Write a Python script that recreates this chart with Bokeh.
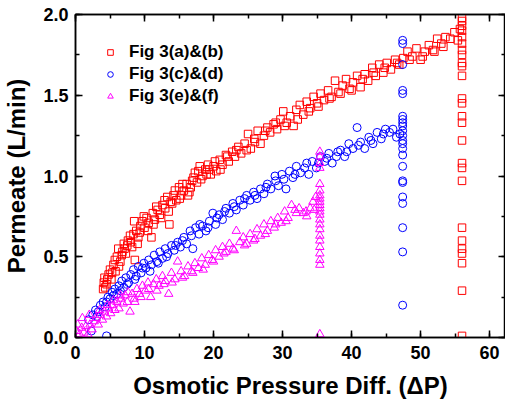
from bokeh.plotting import figure
from bokeh.models import Range1d, LinearAxis, SingleIntervalTicker, Legend, CustomJSTickFormatter
from bokeh.embed import file_html
from bokeh.resources import INLINE

# ---------------- data ----------------
red_x = [4.0, 4.1, 4.2, 4.5, 4.8, 5.0, 5.2, 5.5, 5.8, 6.0, 6.2, 6.5, 6.8, 7.0, 7.3, 7.6, 7.9, 8.2, 8.5, 8.6,
         8.8, 9.1, 9.4, 9.7, 10.0, 10.3, 10.6, 11.0, 11.2, 11.5, 11.9, 12.2, 12.6, 13.0, 13.3, 13.6, 13.8, 14.2, 14.6, 15.0,
         15.3, 15.7, 16.1, 16.5, 16.9, 17.3, 17.6, 18.0, 18.4, 18.8, 19.2, 19.6, 20.0, 20.4, 20.9, 21.3, 21.8, 22.2, 22.7, 23.1,
         23.6, 24.0, 24.5, 25.0, 25.4, 25.9, 26.4, 26.8, 27.3, 27.8, 28.2, 28.7, 29.2, 29.7, 30.1, 30.6, 31.1, 31.6, 32.0, 32.5,
         33.0, 33.5, 34.0, 34.5, 35.0, 35.5, 36.0, 36.6, 37.1, 37.6, 38.1, 38.7, 39.2, 39.7, 40.2, 40.8, 41.3, 41.9, 42.4, 43.0,
         43.5, 44.0, 44.6, 45.1, 45.7, 46.3, 46.9, 47.5, 48.1, 48.8, 49.4, 50.0, 50.6, 51.2, 51.8, 52.4, 53.0, 53.6, 54.3, 54.9,
         55.4, 55.7,
         4.3, 4.6, 5.3, 5.7, 6.3, 6.7, 7.1, 7.5, 8.0, 8.4, 9.0, 9.3, 9.9, 10.5, 11.3, 11.7, 12.4, 12.9, 13.5, 14.0,
         14.4, 15.1, 15.5, 16.3, 16.7, 17.1, 17.8, 18.2, 19.0, 19.4, 20.2, 21.0, 22.0, 23.3, 24.8, 26.0, 27.5, 29.0, 30.3, 32.2,
         33.8, 35.2, 36.8, 38.4, 40.0, 41.6, 43.2, 44.8, 46.6, 48.4, 50.3, 52.0, 53.3,
         56.0, 56.0, 56.0, 56.0, 56.0, 56.0, 56.0, 56.0, 56.0, 56.0, 56.0, 56.0, 56.0, 56.0, 56.0, 56.0, 56.0, 56.0, 56.0, 56.0,
         56.0, 56.0, 56.0, 56.0, 56.0, 56.0]
red_y = [0.30, 0.34, 0.37, 0.33, 0.39, 0.42, 0.36, 0.45, 0.41, 0.50, 0.55, 0.47, 0.53, 0.58, 0.52, 0.60, 0.63, 0.56, 0.72, 0.48,
         0.66, 0.62, 0.69, 0.72, 0.68, 0.74, 0.71, 0.62, 0.77, 0.73, 0.79, 0.76, 0.82, 0.80, 0.87, 0.70, 0.84, 0.88, 0.85, 0.93,
         0.88, 0.91, 0.95, 0.90, 0.97, 1.02, 0.96, 1.06, 1.00, 1.04, 1.07, 1.01, 1.06, 1.03, 1.10, 1.07, 1.13, 1.09, 1.15, 1.12,
         1.18, 1.14, 1.20, 1.26, 1.17, 1.23, 1.28, 1.20, 1.25, 1.30, 1.27, 1.32, 1.29, 1.35, 1.40, 1.33, 1.37, 1.31, 1.41, 1.44,
         1.38, 1.46, 1.42, 1.49, 1.45, 1.51, 1.47, 1.53, 1.49, 1.59, 1.52, 1.56, 1.60, 1.54, 1.58, 1.62, 1.55, 1.63, 1.59, 1.67,
         1.62, 1.69, 1.64, 1.70, 1.66, 1.72, 1.69, 1.73, 1.77, 1.74, 1.79, 1.72, 1.77, 1.81, 1.78, 1.85, 1.82, 1.86, 1.85, 1.89,
         1.84, 1.91,
         0.31, 0.36, 0.40, 0.48, 0.44, 0.51, 0.55, 0.57, 0.59, 0.64, 0.58, 0.65, 0.75, 0.66, 0.70, 0.81, 0.74, 0.85, 0.78, 0.83,
         0.91, 0.86, 0.95, 0.88, 0.93, 0.99, 1.03, 0.98, 1.01, 1.04, 1.09, 1.04, 1.12, 1.16, 1.16, 1.21, 1.28, 1.33, 1.31, 1.35,
         1.40, 1.43, 1.48, 1.51, 1.53, 1.60, 1.64, 1.67, 1.70, 1.72, 1.74, 1.77, 1.80,
         0.01, 0.29, 0.46, 0.52, 0.55, 0.60, 0.68, 0.97, 1.05, 1.08, 1.22, 1.33, 1.37, 1.45, 1.48, 1.62, 1.68, 1.70, 1.75, 1.78,
         1.82, 1.86, 1.90, 1.93, 1.96, 1.98]

blue_x = [2.3, 4.5, 1.9, 2.5, 2.9, 3.3, 3.6, 4.0, 4.3, 4.7, 5.0, 5.3, 5.7, 6.0, 6.3, 6.7, 7.0, 7.3, 7.7, 8.0,
          8.4, 8.8, 9.1, 9.5, 9.9, 10.2, 10.6, 11.0, 11.4, 11.8, 12.2, 12.6, 13.0, 13.4, 13.9, 14.3, 14.8, 15.2, 15.7, 16.1,
          16.6, 17.0, 17.4, 17.9, 18.4, 18.9, 19.4, 19.9, 20.3, 20.8, 21.3, 21.8, 22.3, 22.8, 23.3, 23.8, 24.3, 24.8, 25.3, 25.8,
          26.3, 26.8, 27.3, 27.8, 28.3, 28.9, 29.4, 29.9, 30.5, 31.0, 31.5, 32.0, 32.6, 33.2, 33.8, 34.3, 34.9, 35.5, 36.1, 36.7,
          37.2, 37.8, 38.4, 39.0, 39.6, 40.2, 40.8, 41.3, 41.9, 42.5, 43.1, 43.7, 44.3, 44.9, 45.5, 46.0, 46.5, 47.0,
          3.1, 4.5, 5.5, 6.5, 7.5, 8.6, 9.7, 10.8, 12.0, 13.2, 14.5, 15.5, 16.8, 18.0, 19.2, 20.5, 21.6, 23.0, 24.5, 26.0,
          27.6, 29.0, 30.2, 31.8, 33.5, 35.2, 36.4, 38.0, 39.3, 41.0, 42.8, 44.6,
          47.4, 47.4, 47.4, 47.4, 47.4, 47.4, 47.4, 47.4, 47.4, 47.4, 47.4, 47.4, 47.4, 47.4, 47.4, 47.4, 47.4, 47.4, 47.4, 47.4,
          47.4, 47.4, 47.4]
blue_y = [0.04, 0.01, 0.11, 0.14, 0.17, 0.16, 0.20, 0.22, 0.19, 0.25, 0.24, 0.28, 0.30, 0.27, 0.32, 0.35, 0.31, 0.37, 0.34, 0.39,
          0.42, 0.38, 0.44, 0.40, 0.46, 0.43, 0.48, 0.45, 0.51, 0.47, 0.53, 0.49, 0.55, 0.52, 0.57, 0.54, 0.59, 0.56, 0.62, 0.58,
          0.66, 0.55, 0.68, 0.64, 0.69, 0.66, 0.72, 0.77, 0.70, 0.76, 0.73, 0.80, 0.77, 0.83, 0.79, 0.85, 0.82, 0.88, 0.85, 0.90,
          0.86, 0.92, 0.89, 0.95, 0.92, 1.00, 0.94, 1.01, 0.92, 1.03, 0.99, 1.06, 1.02, 1.05, 1.01, 1.09, 1.05, 1.12, 1.09, 1.14,
          1.08, 1.12, 1.16, 1.12, 1.20, 1.17, 1.30, 1.21, 1.17, 1.24, 1.20, 1.27, 1.23, 1.29, 1.27, 1.29, 1.24, 1.26,
          0.13, 0.22, 0.26, 0.29, 0.33, 0.36, 0.43, 0.41, 0.46, 0.50, 0.57, 0.60, 0.63, 0.70, 0.68, 0.74, 0.78, 0.81, 0.86, 0.88,
          0.93, 0.97, 0.98, 1.01, 1.08, 1.08, 1.11, 1.15, 1.15, 1.19, 1.22, 1.26,
          0.20, 0.53, 0.68, 0.83, 0.87, 0.96, 0.97, 1.06, 1.13, 1.17, 1.20, 1.22, 1.25, 1.28, 1.31, 1.33, 1.35, 1.37, 1.51, 1.53,
          1.69, 1.82, 1.84]

mag_x = [0.1, 0.3, 0.6, 0.9, 1.2, 1.5, 1.8, 2.1, 2.4, 2.7, 3.0, 3.3, 3.6, 3.9, 4.2, 4.5, 4.8, 5.1, 5.4, 5.7,
         6.0, 6.3, 6.6, 6.9, 7.2, 7.5, 7.9, 8.2, 8.5, 8.9, 9.3, 9.7, 10.1, 10.5, 10.9, 11.3, 11.7, 12.1, 12.6, 13.0,
         13.5, 13.9, 14.4, 14.8, 15.3, 15.8, 16.3, 16.8, 17.3, 17.8, 18.3, 18.8, 19.3, 19.8, 20.3, 20.8, 21.3, 21.8, 22.3, 22.8,
         23.3, 23.8, 24.3, 24.8, 25.3, 25.8, 26.3, 26.8, 27.3, 27.8, 28.3, 28.8, 29.3, 29.8, 30.3, 30.8, 31.3, 31.8, 32.4, 33.0,
         33.5, 34.0, 34.4, 34.8,
         1.0, 2.0, 3.5, 4.6, 5.5, 6.5, 7.6, 8.6, 9.5, 10.6, 11.8, 12.8, 14.0, 15.5, 17.0, 18.5, 20.0, 21.5, 23.0, 24.5,
         26.0, 27.5, 29.0, 30.5, 32.0, 33.4, 34.6,
         35.4, 35.4, 35.4, 35.4, 35.4, 35.4, 35.4, 35.4, 35.4, 35.4, 35.4, 35.4, 35.4, 35.4, 35.4, 35.4, 35.4, 35.4, 35.4, 35.4,
         35.4, 35.4, 35.4]
mag_y = [0.04, 0.08, 0.02, 0.06, 0.03, 0.07, 0.02, 0.08, 0.05, 0.10, 0.12, 0.08, 0.14, 0.11, 0.16, 0.13, 0.18, 0.15, 0.20, 0.17,
         0.22, 0.18, 0.24, 0.21, 0.26, 0.22, 0.16, 0.27, 0.24, 0.30, 0.27, 0.32, 0.29, 0.34, 0.25, 0.33, 0.36, 0.32, 0.38, 0.35,
         0.27, 0.40, 0.36, 0.47, 0.41, 0.38, 0.44, 0.41, 0.46, 0.43, 0.49, 0.45, 0.51, 0.48, 0.54, 0.50, 0.56, 0.53, 0.58, 0.55,
         0.66, 0.59, 0.62, 0.58, 0.64, 0.60, 0.67, 0.63, 0.70, 0.66, 0.72, 0.68, 0.74, 0.71, 0.78, 0.74, 0.82, 0.79, 0.80, 0.77,
         0.75, 0.80, 0.84, 0.87,
         0.12, 0.14, 0.17, 0.20, 0.23, 0.26, 0.28, 0.22, 0.25, 0.30, 0.29, 0.33, 0.34, 0.37, 0.40, 0.42, 0.47, 0.52, 0.54, 0.57,
         0.61, 0.64, 0.70, 0.72, 0.77, 0.78, 0.79,
         0.02, 0.45, 0.48, 0.52, 0.56, 0.60, 0.63, 0.67, 0.70, 0.73, 0.76, 0.78, 0.80, 0.82, 0.84, 0.86, 0.88, 0.91, 0.95, 1.05,
         1.08, 1.12, 1.15]

series_labels = ["Fig 3(a)&(b)", "Fig 3(c)&(d)", "Fig 3(e)&(f)"]
x_ticks_step = 10
y_ticks_step = 0.5

FONT = "Liberation Sans"

p = figure(width=505, height=401, output_backend="svg", toolbar_location=None,
           x_range=Range1d(0, 62.3), y_range=Range1d(0, 2.0),
           min_border_left=66, min_border_right=0, min_border_top=14, min_border_bottom=0)
p.grid.visible = False
p.outline_line_color = "black"
p.outline_line_width = 1.5
p.background_fill_color = "white"

r1 = p.scatter(red_x, red_y, marker="square", size=7.5, line_color="#ff0000", fill_color=None, line_width=1)
r2 = p.scatter(blue_x, blue_y, marker="circle", size=8, line_color="#0000ff", fill_color=None, line_width=1)
r3 = p.scatter(mag_x, mag_y, marker="triangle", size=8.5, line_color="#ff00ff", fill_color=None, line_width=1)

def style_axis(ax, show_labels):
    ax.axis_line_width = 1.5
    ax.major_tick_line_width = 1.5
    ax.minor_tick_line_width = 1.5
    ax.major_tick_in = 7
    ax.major_tick_out = 0
    ax.minor_tick_in = 4
    ax.minor_tick_out = 0
    if show_labels:
        ax.major_label_text_font = FONT
        ax.major_label_text_font_style = "bold"
        ax.major_label_text_font_size = "18px"
        ax.major_label_text_color = "black"
        ax.axis_label_text_font = FONT
        ax.axis_label_text_font_style = "bold"
        ax.axis_label_text_font_size = "24px"
        ax.axis_label_text_color = "black"
    else:
        ax.formatter = CustomJSTickFormatter(code="return '';")
        ax.major_label_text_font_size = "1px"
        ax.major_label_standoff = 0
        ax.axis_label_standoff = 0

xa = p.xaxis[0]
xa.ticker = SingleIntervalTicker(interval=x_ticks_step, num_minor_ticks=2)
xa.axis_label = "Osmotic Pressure Diff. (ΔP)"
style_axis(xa, True)
xa.major_label_standoff = 8
xa.axis_label_standoff = 10

ya = p.yaxis[0]
ya.ticker = SingleIntervalTicker(interval=y_ticks_step, num_minor_ticks=2)
ya.axis_label = "Permeate (L/min)"
style_axis(ya, True)
ya.formatter = CustomJSTickFormatter(code="return tick.toFixed(1);")
ya.major_label_standoff = 7
ya.axis_label_standoff = 10

ta = LinearAxis(ticker=SingleIntervalTicker(interval=x_ticks_step, num_minor_ticks=2))
style_axis(ta, False)
p.add_layout(ta, "above")
ra = LinearAxis(ticker=SingleIntervalTicker(interval=y_ticks_step, num_minor_ticks=2))
style_axis(ra, False)
p.add_layout(ra, "right")

legend = Legend(items=[(series_labels[0], [r1]), (series_labels[1], [r2]), (series_labels[2], [r3])],
                location="top_left")
legend.border_line_alpha = 0
legend.background_fill_alpha = 0
legend.margin = 0
legend.padding = 28
legend.glyph_width = 14
legend.glyph_height = 20
legend.label_height = 20
legend.label_standoff = 12
legend.spacing = 2
legend.label_text_font = FONT
legend.label_text_font_style = "bold"
legend.label_text_font_size = "17px"
legend.label_text_color = "black"
p.add_layout(legend)

open("out.html", "w").write(file_html(p, INLINE))
